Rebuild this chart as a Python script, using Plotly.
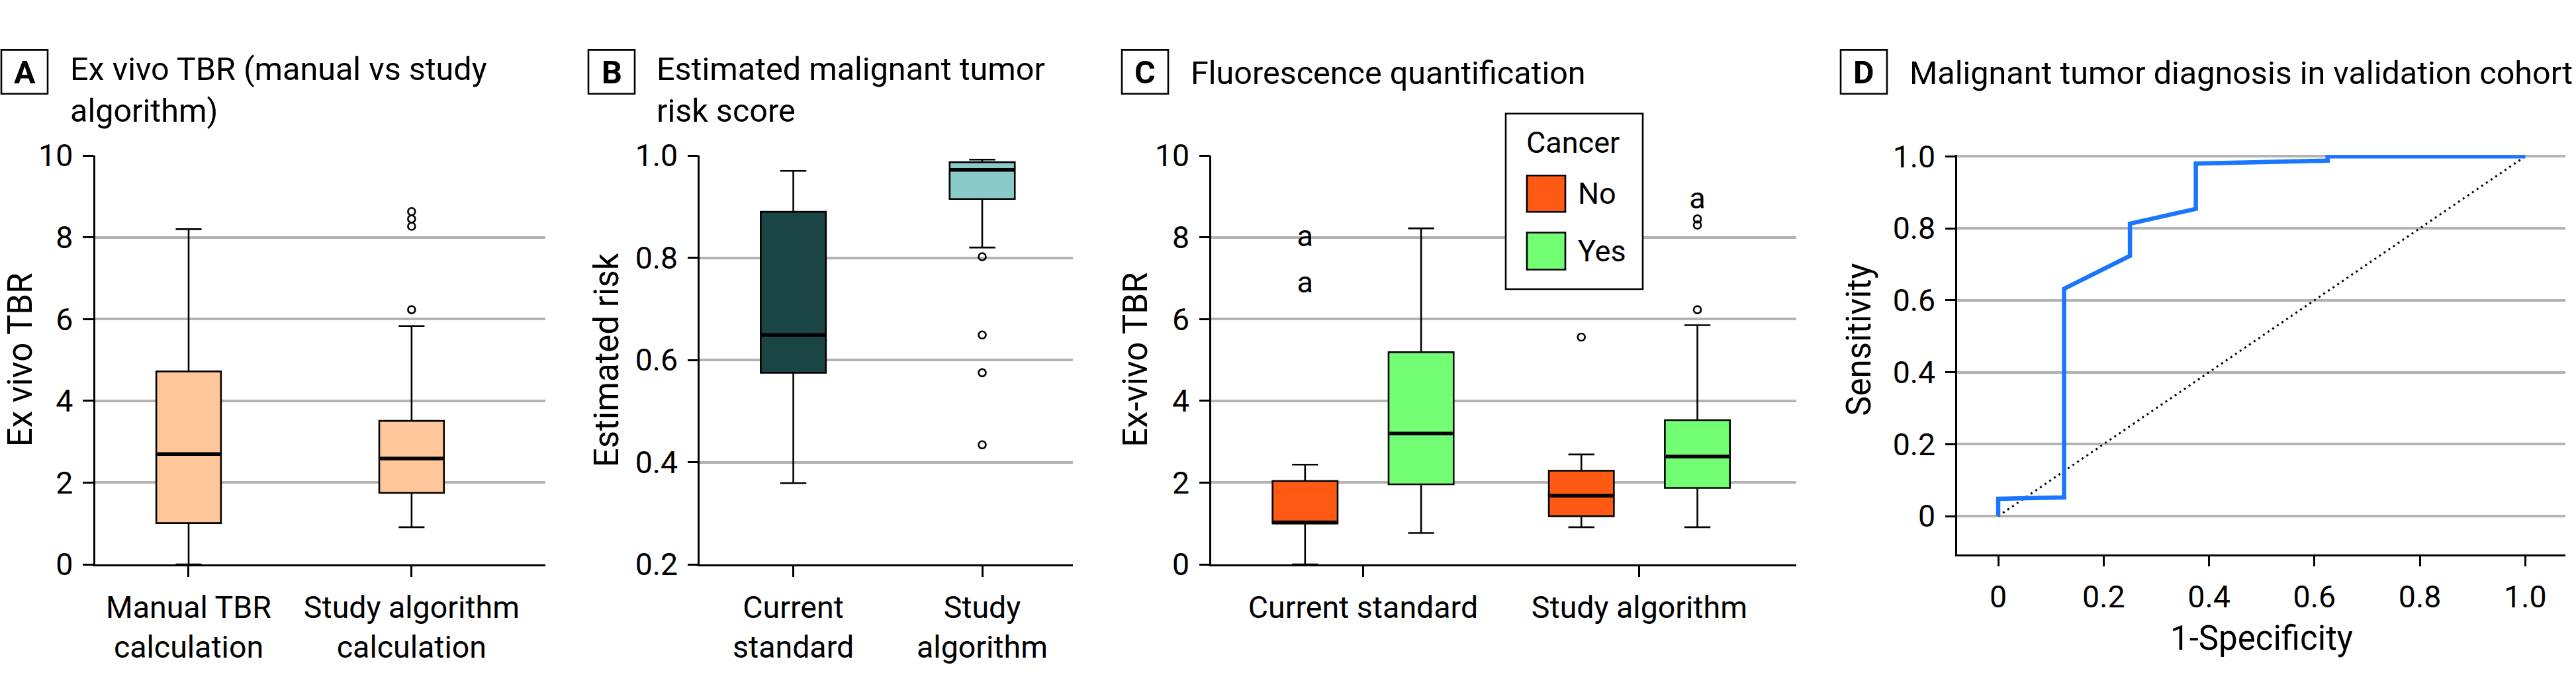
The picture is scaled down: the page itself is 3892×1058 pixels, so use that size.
import plotly.graph_objects as go

# ---------------- DATA ----------------
# Panel A: Ex vivo TBR (manual vs study algorithm)
a_categories = ["Manual TBR<br>calculation", "Study algorithm<br>calculation"]
a_lower = [0.0, 0.91]
a_q1 = [1.01, 1.75]
a_median = [2.70, 2.59]
a_q3 = [4.72, 3.51]
a_upper = [8.20, 5.83]
a_outliers = [[], [8.63, 8.45, 8.27, 6.23]]

# Panel B: Estimated malignant tumor risk score
b_categories = ["Current<br>standard", "Study<br>algorithm"]
b_lower = [0.359, 0.820]
b_q1 = [0.575, 0.915]
b_median = [0.649, 0.972]
b_q3 = [0.890, 0.987]
b_upper = [0.970, 0.992]
b_outliers = [[], [0.802, 0.649, 0.575, 0.434]]

# Panel C: Fluorescence quantification (groups x cancer status)
c_categories = ["Current standard", "Study algorithm"]
c_groups = ["No", "Yes"]
c_lower = {"No": [0.0, 0.91], "Yes": [0.77, 0.91]}
c_q1 = {"No": [1.00, 1.18], "Yes": [1.96, 1.87]}
c_median = {"No": [1.03, 1.68], "Yes": [3.20, 2.64]}
c_q3 = {"No": [2.04, 2.29], "Yes": [5.19, 3.53]}
c_upper = {"No": [2.44, 2.69], "Yes": [8.22, 5.85]}
c_outliers = {"No": [[], [5.56]], "Yes": [[], [8.45, 8.30, 6.23]]}
c_extreme = {"No": [[7.97, 6.83], []], "Yes": [[], [8.89]]}

# Panel D: ROC curve, malignant tumor diagnosis in validation cohort
roc_fpr = [0, 0, 0.125, 0.125, 0.25, 0.25, 0.375, 0.375, 0.625, 0.625, 1.0]
roc_tpr = [0, 0.048, 0.052, 0.632, 0.7235, 0.813, 0.854, 0.98, 0.988, 1.0, 1.0]
d_ticks = [0, 0.2, 0.4, 0.6, 0.8, 1.0]
d_ticktext = ["0", "0.2", "0.4", "0.6", "0.8", "1.0"]

# ---------------- STYLE ----------------
W, H = 3892, 1058
FONT = "Roboto"
FS_TICK = 46.5
FS_TITLE = 48.5
FS_AXT = 51
FS_LEG = 45
GRID = "#b3b3b3"
A_FILL = "#ffc799"
B_FILLS = ["#1b4444", "#88cbc8"]
C_FILLS = {"No": "#ff5a14", "Yes": "#73ff73"}
BLUE = "#1a75ff"


def px(x):
    return x / W


def py(y):
    return 1 - y / H


fig = go.Figure()


def add_box(pos, lo, q1, med, q3, hi, width, fill, xa, ya, name=""):
    fig.add_trace(go.Box(
        x=[pos], lowerfence=[lo], q1=[q1], median=[med], q3=[q3], upperfence=[hi],
        width=width, fillcolor=fill, line=dict(color="black", width=2.6),
        whiskerwidth=0.4, boxpoints=False, showlegend=False, name=name,
        xaxis=xa, yaxis=ya, hoverinfo="skip"))
    fig.add_trace(go.Scatter(
        x=[pos - width / 2 + 0.004, pos + width / 2 - 0.004], y=[med, med], mode="lines",
        line=dict(color="black", width=5.5), showlegend=False,
        xaxis=xa, yaxis=ya, hoverinfo="skip"))


def add_outliers(pos, vals, xa, ya):
    if vals:
        fig.add_trace(go.Scatter(
            x=[pos] * len(vals), y=vals, mode="markers",
            marker=dict(symbol="circle-open", size=11, color="black", line=dict(width=2.6)),
            showlegend=False, xaxis=xa, yaxis=ya, hoverinfo="skip", cliponaxis=False))


def add_extreme(pos, vals, xa, ya):
    if vals:
        fig.add_trace(go.Scatter(
            x=[pos] * len(vals), y=vals, mode="text", text=["a"] * len(vals),
            textfont=dict(family=FONT, size=45, color="black"),
            showlegend=False, xaxis=xa, yaxis=ya, hoverinfo="skip", cliponaxis=False))


# Panel A
a_w = 0.29
for i in range(len(a_categories)):
    add_box(i, a_lower[i], a_q1[i], a_median[i], a_q3[i], a_upper[i], a_w, A_FILL, "x", "y")
    add_outliers(i, a_outliers[i], "x", "y")

# Panel B
b_w = 0.345
for i in range(len(b_categories)):
    add_box(i, b_lower[i], b_q1[i], b_median[i], b_q3[i], b_upper[i], b_w, B_FILLS[i], "x2", "y2")
    add_outliers(i, b_outliers[i], "x2", "y2")

# Panel C
c_w = 0.2355
c_off = {"No": -0.21, "Yes": 0.21}
for g in c_groups:
    for i in range(len(c_categories)):
        p = i + c_off[g]
        add_box(p, c_lower[g][i], c_q1[g][i], c_median[g][i], c_q3[g][i], c_upper[g][i],
                c_w, C_FILLS[g], "x3", "y3", name=g)
        add_outliers(p, c_outliers[g][i], "x3", "y3")
        add_extreme(p, c_extreme[g][i], "x3", "y3")

# Panel D
fig.add_trace(go.Scatter(x=[0, 1], y=[0, 1], mode="lines",
                         line=dict(color="black", width=3, dash="3px,5.5px"),
                         showlegend=False, xaxis="x4", yaxis="y4", hoverinfo="skip"))
fig.add_trace(go.Scatter(x=roc_fpr, y=roc_tpr, mode="lines",
                         line=dict(color=BLUE, width=6.5),
                         showlegend=False, xaxis="x4", yaxis="y4", hoverinfo="skip"))

# ---------------- AXES ----------------
tickfont = dict(family=FONT, size=FS_TICK, color="black")
common = dict(showline=True, linecolor="black", linewidth=2.6, ticks="outside",
              ticklen=16, tickwidth=2.6, tickcolor="black", zeroline=False,
              tickfont=tickfont, fixedrange=True)
xcommon = dict(ticklabelstandoff=6, showgrid=False, **common)
ycommon = dict(ticklabelstandoff=5, showgrid=True, gridcolor=GRID, gridwidth=4, **common)

top, bot = 219.3, 870.5
dtop, dbot = 218.3, 854.3

layout_axes = {
    "xaxis": dict(domain=[px(143.5), px(824)], range=[-0.42, 1.60], tickvals=[0, 1],
                  ticktext=a_categories, anchor="y", **xcommon),
    "yaxis": dict(domain=[py(bot), py(top)], range=[0, 10], tickvals=[0, 2, 4, 6, 8, 10],
                  anchor="x", **ycommon),
    "xaxis2": dict(domain=[px(1057.3), px(1621)], range=[-0.495, 1.48], tickvals=[0, 1],
                   ticktext=b_categories, anchor="y2", **xcommon),
    "yaxis2": dict(domain=[py(bot), py(top)], range=[0.2, 1.0],
                   tickvals=[0.2, 0.4, 0.6, 0.8, 1.0], ticktext=["0.2", "0.4", "0.6", "0.8", "1.0"],
                   anchor="x2", **ycommon),
    "xaxis3": dict(domain=[px(1830.3), px(2714.4)], range=[-0.549, 1.569], tickvals=[0, 1],
                   ticktext=c_categories, anchor="y3", **xcommon),
    "yaxis3": dict(domain=[py(bot), py(top)], range=[0, 10], tickvals=[0, 2, 4, 6, 8, 10],
                   anchor="x3", **ycommon),
    "xaxis4": dict(domain=[px(2957.3), px(3876.3)], range=[-0.0775, 1.0766], tickvals=d_ticks,
                   ticktext=d_ticktext, anchor="y4", **xcommon),
    "yaxis4": dict(domain=[py(dbot), py(dtop)], range=[-0.106, 1.004], tickvals=d_ticks,
                   ticktext=d_ticktext, anchor="x4", **ycommon),
}

# ---------------- ANNOTATIONS / SHAPES ----------------
ann = []
shapes = []


def text(x, y, s, size, xanchor="left", yanchor="middle", angle=0, bold=False):
    ann.append(dict(x=px(x), y=py(y), xref="paper", yref="paper", text=s, showarrow=False,
                    xanchor=xanchor, yanchor=yanchor, textangle=angle, align="left",
                    font=dict(family=FONT, size=size, color="black",
                              weight="bold" if bold else "normal")))


# Panel letter boxes
for letter, x0 in [("A", 2), ("B", 889), ("C", 1695), ("D", 2781)]:
    shapes.append(dict(type="rect", xref="paper", yref="paper", x0=px(x0), x1=px(x0 + 70),
                       y0=py(121), y1=py(51), line=dict(color="black", width=2.6),
                       fillcolor="white"))
    text(x0 + 35, 87, letter, FS_TITLE, xanchor="center", bold=True)

# Panel titles
text(103.6, 115, "Ex vivo TBR (manual vs study<br>algorithm)", FS_TITLE)
text(990.3, 115, "Estimated malignant tumor<br>risk score", FS_TITLE)
text(1797, 88, "Fluorescence quantification", FS_TITLE)
text(2883, 88, "Malignant tumor diagnosis in validation cohort", FS_TITLE)

# Axis titles
text(30, 545, "Ex vivo TBR", FS_AXT, xanchor="center", angle=-90)
text(916, 545, "Estimated risk", FS_AXT, xanchor="center", angle=-90)
text(1715.5, 545, "Ex-vivo TBR", FS_AXT, xanchor="center", angle=-90)
text(2809, 513, "Sensitivity", FS_AXT, xanchor="center", angle=-90)
text(3416.8, 988, "1-Specificity", FS_AXT, xanchor="center")

# Manual legend for panel C
shapes.append(dict(type="rect", xref="paper", yref="paper", x0=px(2275), x1=px(2482),
                   y0=py(432), y1=py(152.5), line=dict(color="black", width=2.6),
                   fillcolor="white", layer="above"))
text(2304, 199, "Cancer", FS_LEG)
for g, (y0, y1) in zip(c_groups, [(251, 309), (342, 401)]):
    shapes.append(dict(type="rect", xref="paper", yref="paper", x0=px(2307), x1=px(2365),
                       y0=py(y1), y1=py(y0), line=dict(color="black", width=2.6),
                       fillcolor=C_FILLS[g], layer="above"))
    text(2382, (y0 + y1) / 2, g, FS_LEG)

fig.update_layout(
    width=W, height=H, margin=dict(l=0, r=0, t=0, b=0),
    paper_bgcolor="white", plot_bgcolor="white", showlegend=False,
    font=dict(family=FONT, size=FS_TICK, color="black"),
    annotations=ann, shapes=shapes, **layout_axes)

fig.write_html("out.html")
